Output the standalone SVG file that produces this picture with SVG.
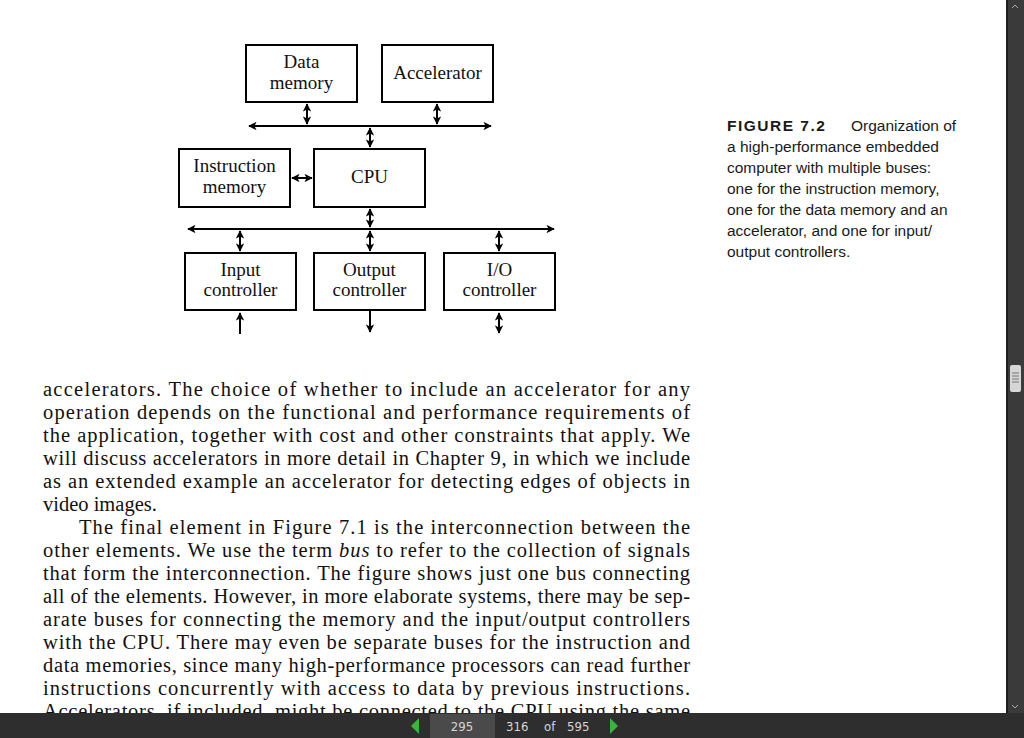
<svg xmlns="http://www.w3.org/2000/svg" width="1024" height="738" viewBox="0 0 1024 738">
<defs>
<marker id="ah" viewBox="0 0 10 10" refX="9" refY="5" markerWidth="4.2" markerHeight="4.2" orient="auto-start-reverse" markerUnits="strokeWidth">
<path d="M0,0 L10,5 L0,10 L2.5,5 z" fill="#000"/>
</marker>
<clipPath id="pageclip"><rect x="0" y="0" width="1006" height="713"/></clipPath>
</defs>
<style>
.box{fill:#fff;stroke:#000;stroke-width:2}
.lbl{font-family:"Liberation Serif","DejaVu Serif",serif;font-size:19px;fill:#111;text-anchor:middle}
.ln{stroke:#000;stroke-width:2;fill:none}
.body{font-family:"Liberation Serif","DejaVu Serif",serif;font-size:20.5px;fill:#111}
.cap{font-family:"Liberation Sans","Arial",sans-serif;font-size:15.5px;fill:#1a1a1a}
.bar{font-family:"DejaVu Sans Condensed","DejaVu Sans",sans-serif;font-size:13px;fill:#d8d8d8}
</style>
<rect x="0" y="0" width="1024" height="738" fill="#fff"/>

<g id="connectors">
<line class="ln" x1="249" y1="126" x2="491" y2="126" marker-start="url(#ah)" marker-end="url(#ah)"/>
<line class="ln" x1="307" y1="104" x2="307" y2="124" marker-start="url(#ah)" marker-end="url(#ah)"/>
<line class="ln" x1="437" y1="104" x2="437" y2="124" marker-start="url(#ah)" marker-end="url(#ah)"/>
<line class="ln" x1="370" y1="128" x2="370" y2="147" marker-start="url(#ah)" marker-end="url(#ah)"/>
<line class="ln" x1="292" y1="178" x2="312" y2="178" marker-start="url(#ah)" marker-end="url(#ah)"/>
<line class="ln" x1="370" y1="209" x2="370" y2="227" marker-start="url(#ah)" marker-end="url(#ah)"/>
<line class="ln" x1="188" y1="229" x2="554" y2="229" marker-start="url(#ah)" marker-end="url(#ah)"/>
<line class="ln" x1="240" y1="231" x2="240" y2="251" marker-start="url(#ah)" marker-end="url(#ah)"/>
<line class="ln" x1="370" y1="231" x2="370" y2="251" marker-start="url(#ah)" marker-end="url(#ah)"/>
<line class="ln" x1="499" y1="231" x2="499" y2="251" marker-start="url(#ah)" marker-end="url(#ah)"/>
<line class="ln" x1="240" y1="334" x2="240" y2="313" marker-end="url(#ah)"/>
<line class="ln" x1="370" y1="311" x2="370" y2="332" marker-end="url(#ah)"/>
<line class="ln" x1="499" y1="313" x2="499" y2="333" marker-start="url(#ah)" marker-end="url(#ah)"/>
</g>

<g id="data-memory"><rect class="box" x="246" y="45" width="111" height="57"/><text class="lbl" x="301.5" y="68">Data</text><text class="lbl" x="301.5" y="89">memory</text></g>
<g id="accelerator"><rect class="box" x="382" y="45" width="111" height="57"/><text class="lbl" x="437.5" y="79">Accelerator</text></g>
<g id="instruction-memory"><rect class="box" x="179" y="149" width="111" height="58"/><text class="lbl" x="234.5" y="172">Instruction</text><text class="lbl" x="234.5" y="193">memory</text></g>
<g id="cpu"><rect class="box" x="314" y="149" width="111" height="58"/><text class="lbl" x="369.5" y="183">CPU</text></g>
<g id="input-controller"><rect class="box" x="185" y="253" width="111" height="57"/><text class="lbl" x="240.5" y="276">Input</text><text class="lbl" x="240.5" y="296">controller</text></g>
<g id="output-controller"><rect class="box" x="314" y="253" width="111" height="57"/><text class="lbl" x="369.5" y="276">Output</text><text class="lbl" x="369.5" y="296">controller</text></g>
<g id="io-controller"><rect class="box" x="444" y="253" width="111" height="57"/><text class="lbl" x="499.5" y="276">I/O</text><text class="lbl" x="499.5" y="296">controller</text></g>

<g id="caption">
<text class="cap" x="727" y="131" font-weight="bold" letter-spacing="1.5" fill="#222">FIGURE 7.2</text>
<text class="cap" x="851" y="131">Organization of</text>
<text class="cap" x="727" y="152">a high-performance embedded</text>
<text class="cap" x="727" y="173">computer with multiple buses:</text>
<text class="cap" x="727" y="194">one for the instruction memory,</text>
<text class="cap" x="727" y="215">one for the data memory and an</text>
<text class="cap" x="727" y="236">accelerator, and one for input/</text>
<text class="cap" x="727" y="257">output controllers.</text>
</g>

<g id="body-text">
<text class="body" x="43" y="396" textLength="647" lengthAdjust="spacing">accelerators. The choice of whether to include an accelerator for any</text>
<text class="body" x="43" y="419" textLength="647" lengthAdjust="spacing">operation depends on the functional and performance requirements of</text>
<text class="body" x="43" y="442" textLength="647" lengthAdjust="spacing">the application, together with cost and other constraints that apply. We</text>
<text class="body" x="43" y="465" textLength="647" lengthAdjust="spacing">will discuss accelerators in more detail in Chapter 9, in which we include</text>
<text class="body" x="43" y="488" textLength="647" lengthAdjust="spacing">as an extended example an accelerator for detecting edges of objects in</text>
<text class="body" x="43" y="511">video images.</text>
<text class="body" x="79" y="534" textLength="611" lengthAdjust="spacing">The final element in Figure 7.1 is the interconnection between the</text>
<text class="body" x="43" y="557" textLength="647" lengthAdjust="spacing">other elements. We use the term <tspan font-style="italic">bus</tspan> to refer to the collection of signals</text>
<text class="body" x="43" y="580" textLength="647" lengthAdjust="spacing">that form the interconnection. The figure shows just one bus connecting</text>
<text class="body" x="43" y="603" textLength="647" lengthAdjust="spacing">all of the elements. However, in more elaborate systems, there may be sep-</text>
<text class="body" x="43" y="626" textLength="647" lengthAdjust="spacing">arate buses for connecting the memory and the input/output controllers</text>
<text class="body" x="43" y="649" textLength="647" lengthAdjust="spacing">with the CPU. There may even be separate buses for the instruction and</text>
<text class="body" x="43" y="672" textLength="647" lengthAdjust="spacing">data memories, since many high-performance processors can read further</text>
<text class="body" x="43" y="695" textLength="647" lengthAdjust="spacing">instructions concurrently with access to data by previous instructions.</text>
<g clip-path="url(#pageclip)"><text class="body" x="43" y="718" textLength="647" lengthAdjust="spacing">Accelerators, if included, might be connected to the CPU using the same</text></g>
</g>

<g id="scrollbar">
<rect x="1006" y="0" width="18" height="713" fill="#3a3a3a"/>
<rect x="1006" y="0" width="2" height="713" fill="#1e1e1e"/>
<rect x="1010" y="365" width="11" height="27" rx="2" fill="#d6d6d6"/>
<line x1="1012" y1="373" x2="1019" y2="373" stroke="#777" stroke-width="1"/>
<line x1="1012" y1="376" x2="1019" y2="376" stroke="#777" stroke-width="1"/>
<line x1="1012" y1="379" x2="1019" y2="379" stroke="#777" stroke-width="1"/>
<line x1="1012" y1="382" x2="1019" y2="382" stroke="#777" stroke-width="1"/>
<path d="M1012,8 L1015,5 L1018,8" fill="none" stroke="#aaa" stroke-width="1"/>
<path d="M1012,705 L1015,708 L1018,705" fill="none" stroke="#aaa" stroke-width="1"/>
</g>

<g id="bottom-bar">
<rect x="0" y="713" width="1024" height="25" fill="#2e2e2e"/>
<path d="M419,718 L411,726 L419,734 z" fill="#3cb43c"/>
<rect x="430" y="714" width="65" height="24" fill="#4a4a4a"/>
<text class="bar" x="462" y="731" text-anchor="middle">295</text>
<text class="bar" x="506" y="731">316</text>
<text class="bar" x="544" y="731">of</text>
<text class="bar" x="567" y="731">595</text>
<path d="M610,718 L618,726 L610,734 z" fill="#3cb43c"/>
</g>
</svg>
